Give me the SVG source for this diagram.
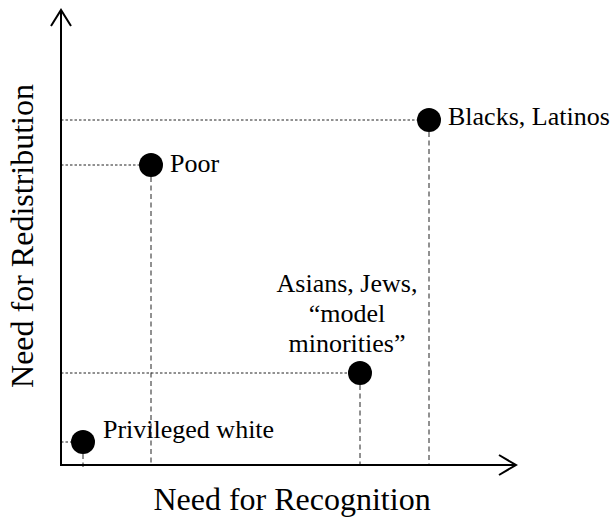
<svg xmlns="http://www.w3.org/2000/svg" width="616" height="517" viewBox="0 0 616 517">
<style>
.axis{stroke:#000;stroke-width:2;fill:none}
.hguide{stroke:#222;stroke-width:1;stroke-dasharray:2.5,2}
.vguide{stroke:#222;stroke-width:1;stroke-dasharray:5,3.5}
.dot{fill:#000}
</style>
<rect width="616" height="517" fill="#fff"/>
<g id="connectors">
<line class="hguide" x1="61" y1="120" x2="417" y2="120"/>
<line class="vguide" x1="429" y1="132" x2="429" y2="465"/>
<line class="hguide" x1="61" y1="165" x2="139" y2="165"/>
<line class="vguide" x1="151" y1="177" x2="151" y2="465"/>
<line class="hguide" x1="61" y1="373" x2="348" y2="373"/>
<line class="vguide" x1="360" y1="385" x2="360" y2="465"/>
<line class="hguide" x1="61" y1="442" x2="71" y2="442"/>
<line class="vguide" x1="83" y1="454" x2="83" y2="467"/>
</g>
<g id="axes" font-family="Liberation Serif, serif" font-size="32">
<path class="axis" d="M61,466 V10 M51,26 L61,10 L71,26"/>
<path class="axis" d="M60,465 H516 M499,455 L516,465 L499,475"/>
<text x="292" y="510" text-anchor="middle">Need for Recognition</text>
<text transform="translate(33,236) rotate(-90)" text-anchor="middle">Need for Redistribution</text>
</g>
<g font-family="Liberation Serif, serif" font-size="26">
<g id="blacks-latinos">
<circle class="dot" cx="429" cy="120" r="12"/>
<text x="448" y="125">Blacks, Latinos</text>
</g>
<g id="poor">
<circle class="dot" cx="151" cy="165" r="12"/>
<text x="170" y="172">Poor</text>
</g>
<g id="asians">
<circle class="dot" cx="360" cy="373" r="12"/>
<text x="347" y="292" text-anchor="middle">Asians, Jews,</text>
<text x="347" y="322" text-anchor="middle">“model</text>
<text x="347" y="352" text-anchor="middle">minorities”</text>
</g>
<g id="privileged-white">
<circle class="dot" cx="83" cy="442" r="12"/>
<text x="103" y="438">Privileged white</text>
</g>
</g>
</svg>
